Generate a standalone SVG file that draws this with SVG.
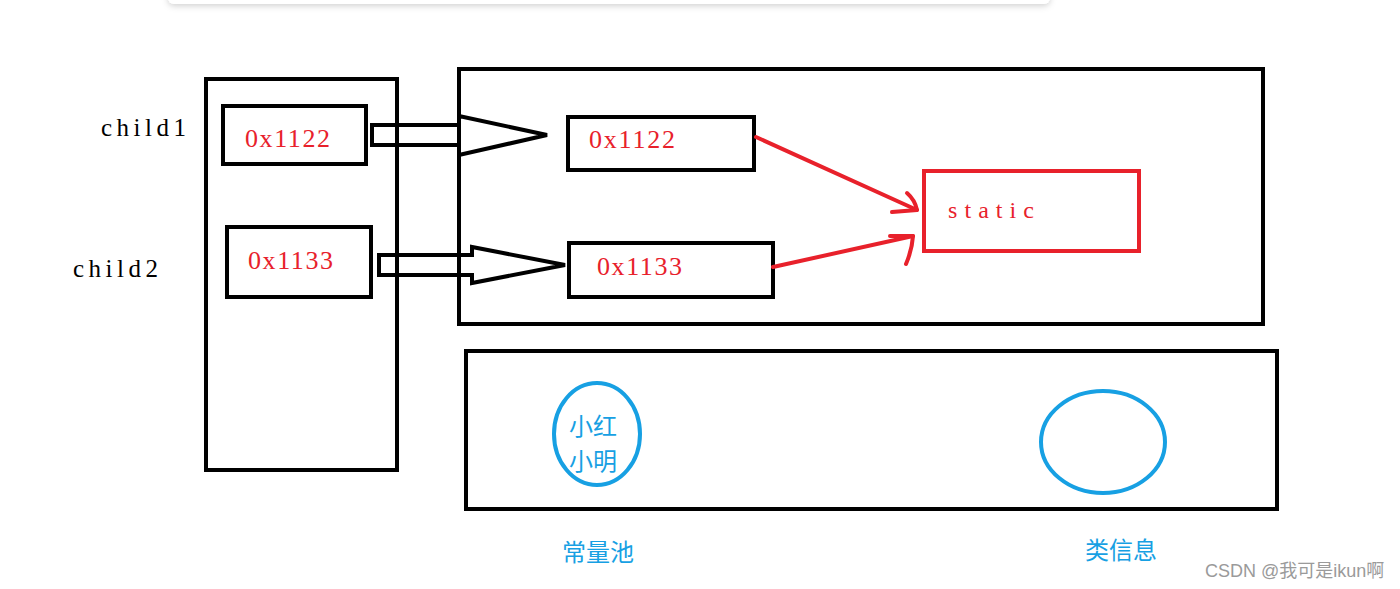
<svg xmlns="http://www.w3.org/2000/svg" width="1400" height="589" viewBox="0 0 1400 589">
<defs>
<filter id="sh" x="-5%" y="-100%" width="110%" height="400%"><feDropShadow dx="0" dy="2" stdDeviation="3" flood-color="#000" flood-opacity="0.18"/></filter>
<style>
.bx{fill:none;stroke:#000;stroke-width:4}
.rb{fill:none;stroke:#e8212b;stroke-width:4}
.rl{fill:none;stroke:#e8212b;stroke-width:4;stroke-linecap:round;stroke-linejoin:round}
.fa{fill:none;stroke:#000;stroke-width:4;stroke-linejoin:miter}
.el{fill:none;stroke:#17a0e3;stroke-width:4}
.lbl{font-family:"Liberation Serif",serif;font-size:25px;fill:#000}
.adr{font-family:"Liberation Serif",serif;font-size:26px;fill:#e8212b}
.cn{font-family:"Noto Sans CJK SC","Noto Sans",sans-serif;font-size:24px;fill:#17a0e3}
.wm{font-family:"Liberation Sans","Noto Sans CJK SC",sans-serif;font-size:18px;fill:#9a9a9a}
</style>
</defs>
<rect width="1400" height="589" fill="#fff"/>
<rect x="168" y="-20" width="882" height="24" rx="6" fill="#fff" filter="url(#sh)"/>

<g id="stack">
<rect class="bx" x="206" y="79" width="191" height="391"/>
</g>
<g id="child1">
<text class="lbl" x="101" y="136" textLength="85" lengthAdjust="spacing">child1</text>
<rect class="bx" x="223" y="106" width="143" height="58"/>
<text class="adr" x="245" y="147" textLength="85" lengthAdjust="spacing">0x1122</text>
</g>
<g id="child2">
<text class="lbl" x="73" y="277" textLength="85" lengthAdjust="spacing">child2</text>
<rect class="bx" x="227" y="227" width="144" height="70"/>
<text class="adr" x="248" y="269" textLength="85" lengthAdjust="spacing">0x1133</text>
</g>
<g id="heap">
<rect class="bx" x="459" y="69" width="804" height="255"/>
</g>
<g id="obj1">
<rect class="bx" x="568" y="117" width="186" height="53"/>
<text class="adr" x="589" y="148" textLength="86" lengthAdjust="spacing">0x1122</text>
</g>
<g id="obj2">
<rect class="bx" x="569" y="243" width="204" height="54"/>
<text class="adr" x="597" y="275" textLength="85" lengthAdjust="spacing">0x1133</text>
</g>
<g id="static">
<rect class="rb" x="924" y="171" width="215" height="80"/>
<text class="adr" x="948" y="218" style="font-size:24px" textLength="86" lengthAdjust="spacing">static</text>
</g>
<g id="methodArea">
<rect class="bx" x="466" y="351" width="811" height="158"/>
</g>
<g id="constPool">
<ellipse class="el" cx="597" cy="434" rx="43" ry="51"/>
<text class="cn" x="593" y="435" text-anchor="middle">小红</text>
<text class="cn" x="593" y="470" text-anchor="middle">小明</text>
<text class="cn" x="598" y="561" text-anchor="middle">常量池</text>
</g>
<g id="classInfo">
<ellipse class="el" cx="1103" cy="442" rx="62" ry="51"/>
<text class="cn" x="1121" y="559" text-anchor="middle">类信息</text>
</g>

<g id="connectors">
<path class="fa" d="M372 125 L459 125 L459 116 L547 135 L459 155 L459 145 L372 145 Z"/>
<path class="fa" d="M379 255 L472 255 L472 247 L565 265 L472 283 L472 275 L379 275 Z"/>
<path class="rl" d="M756 137 L917 210"/>
<path class="rl" d="M907 193 Q915 200 917 210 L892 212"/>
<path class="rl" d="M773 267 L913 236"/>
<path class="rl" d="M890 236 L913 236 Q912 250 906 264"/>
</g>

<text class="wm" x="1205" y="577">CSDN @我可是ikun啊</text>
</svg>
